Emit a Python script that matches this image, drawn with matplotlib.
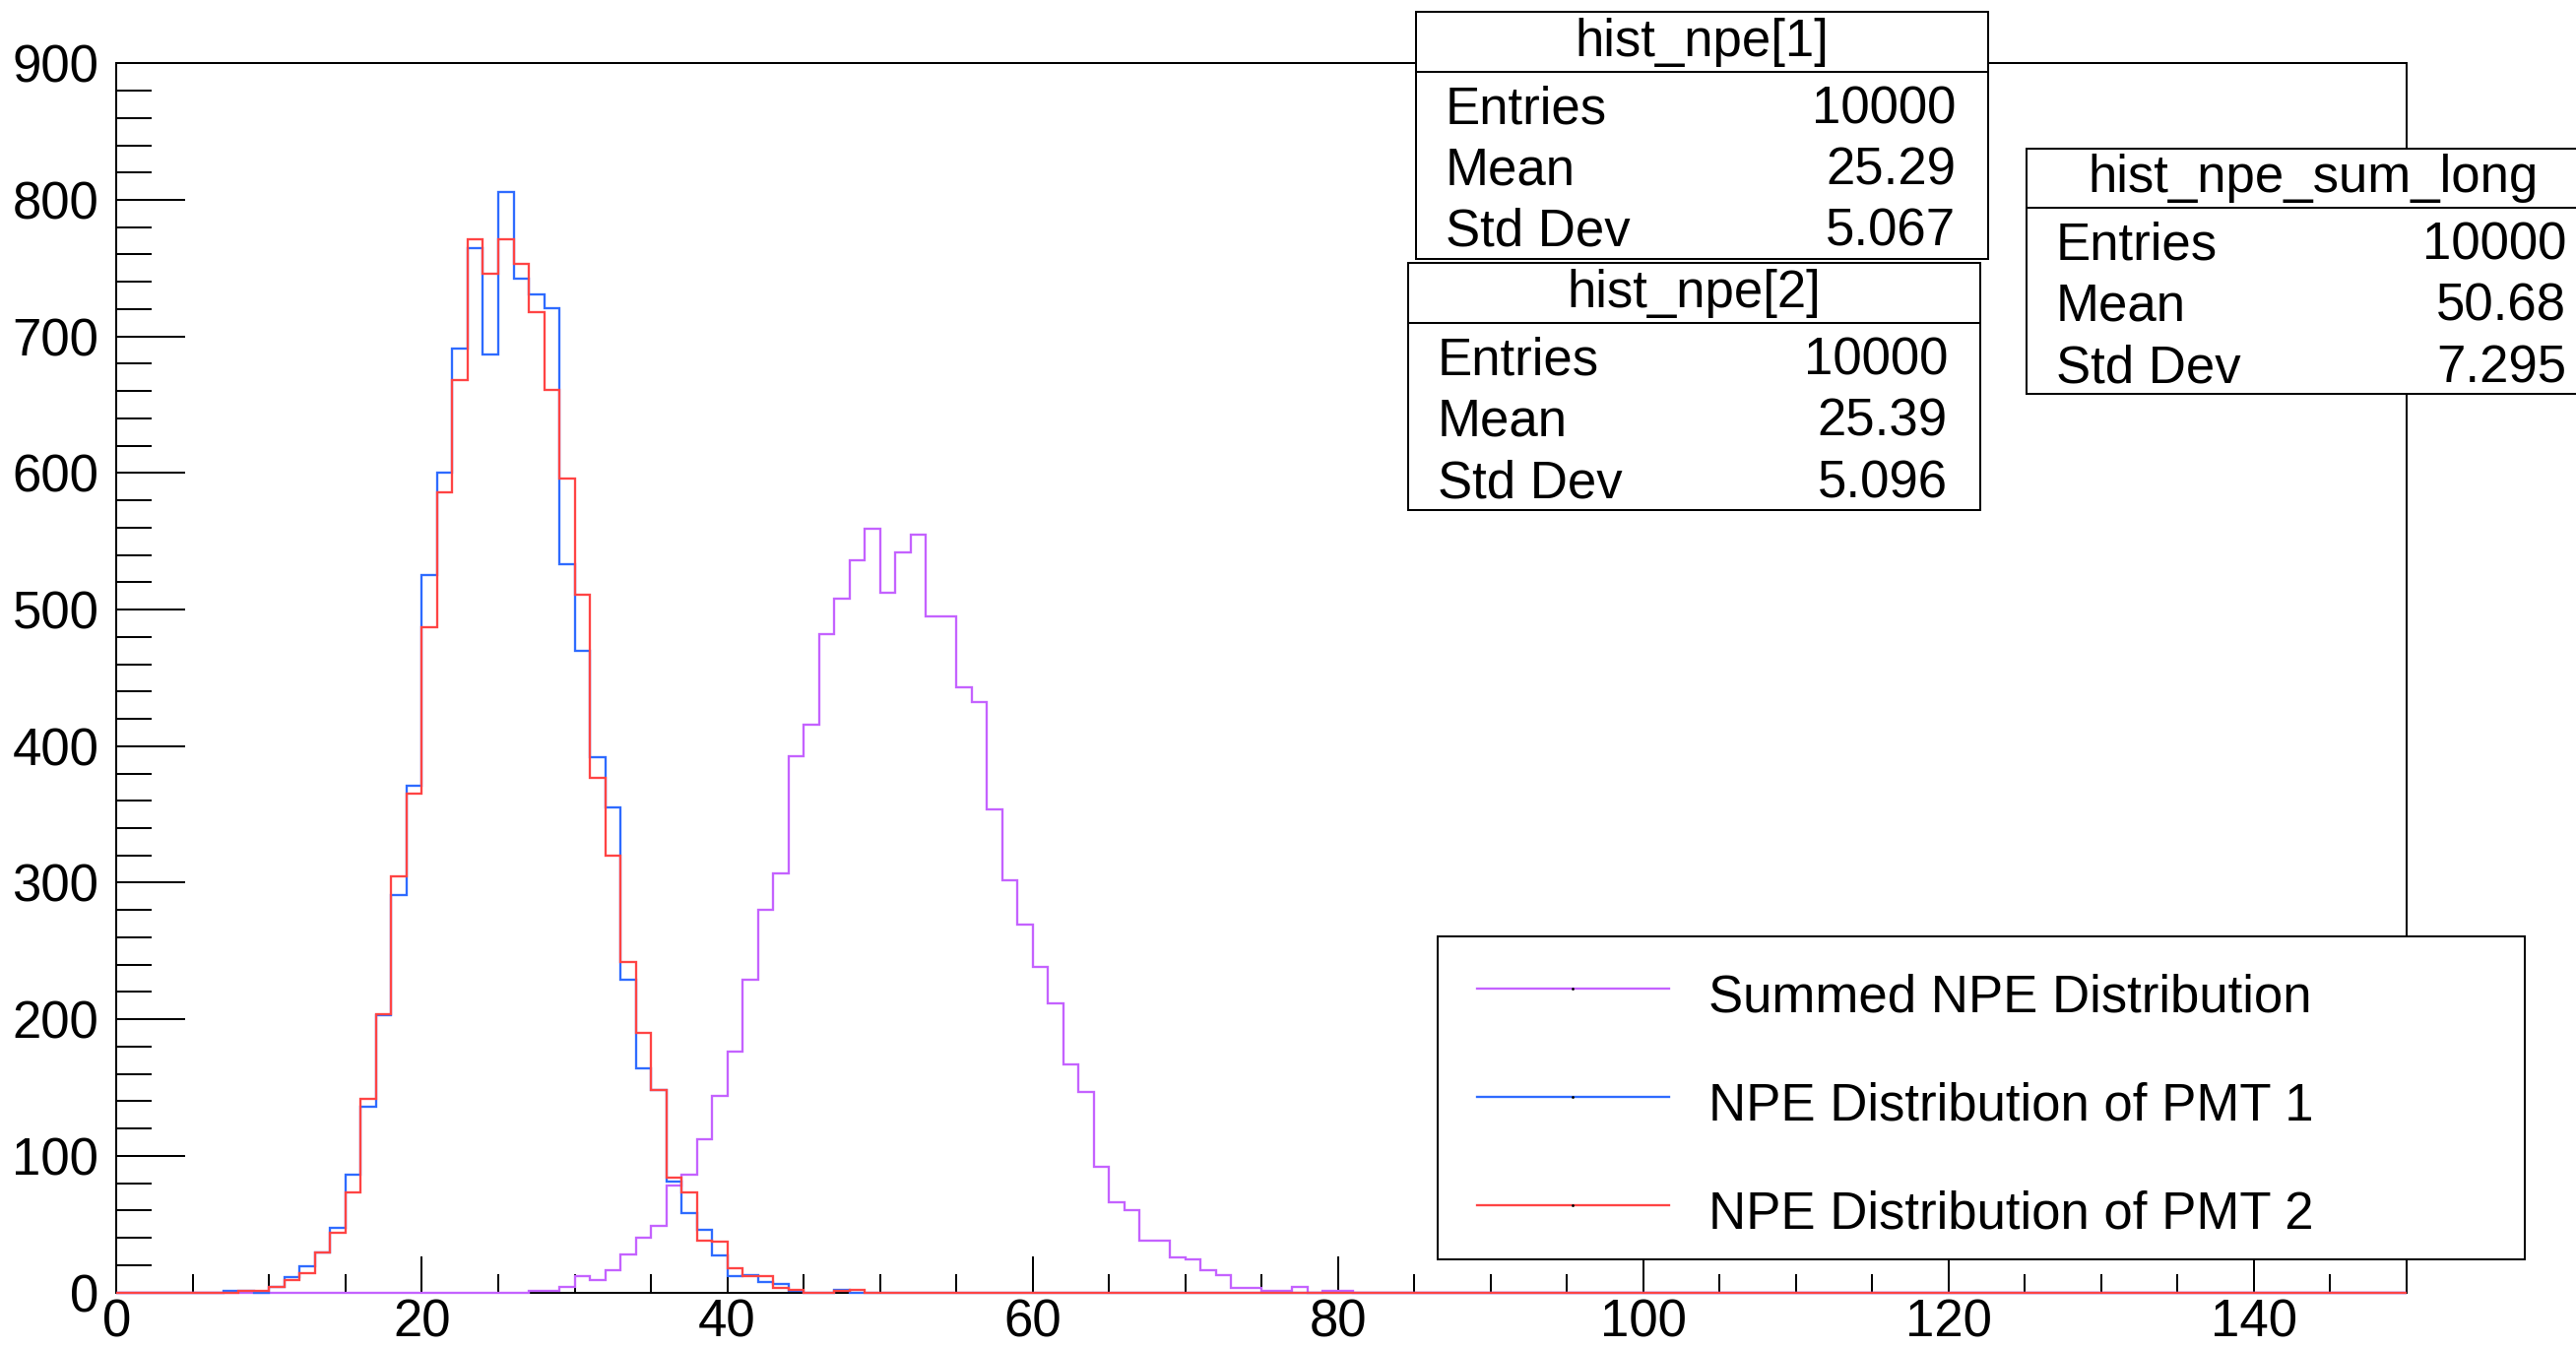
import numpy as np
import matplotlib
matplotlib.use("Agg")
import matplotlib.pyplot as plt
from matplotlib.patches import Rectangle
from matplotlib.lines import Line2D

plt.rcParams['font.family'] = ['Liberation Sans', 'DejaVu Sans']

# ---------------- data ----------------
bin_edges = np.arange(0, 151, 1)

pmt1_start = 7
pmt1_counts = [1, 1, 0, 4, 11, 19, 29, 47, 86, 136, 203, 291, 371, 525, 600, 691,
               765, 687, 806, 742, 731, 721, 533, 470, 392, 355, 229, 164, 148, 81,
               58, 46, 27, 12, 13, 8, 6, 1, 0, 0, 2, 0]

pmt2_start = 8
pmt2_counts = [1, 1, 4, 9, 14, 29, 44, 73, 142, 204, 305, 365, 487, 586, 668, 771,
               746, 771, 753, 718, 661, 596, 511, 377, 320, 242, 190, 148, 84, 73,
               38, 37, 18, 12, 12, 3, 2, 0, 0, 1, 2]

sum_start = 27
sum_counts = [1, 1, 4, 12, 9, 16, 28, 40, 49, 78, 86, 112, 144, 176, 229, 280, 307,
              393, 416, 482, 508, 536, 559, 512, 542, 555, 495, 495, 443, 432, 354,
              302, 269, 238, 212, 167, 147, 92, 66, 60, 38, 38, 26, 24, 16, 13, 3, 3,
              1, 1, 4, 0, 1, 1]

legend_labels = ["Summed NPE Distribution", "NPE Distribution of PMT 1",
                 "NPE Distribution of PMT 2"]
stat_titles = ["hist_npe[1]", "hist_npe[2]", "hist_npe_sum_long"]
stat_keys = ["Entries", "Mean", "Std Dev"]
stat_values_pmt1 = ["10000", "25.29", "5.067"]
stat_values_pmt2 = ["10000", "25.39", "5.096"]
stat_values_sum = ["10000", "50.68", "7.295"]

x_major = np.arange(0, 141, 20)
x_minor = np.arange(0, 151, 5)
y_major = np.arange(0, 901, 100)
y_minor = np.arange(0, 901, 20)

# ---------------- helpers ----------------
def full_hist(start, counts, nbins=150):
    h = np.zeros(nbins)
    h[start:start + len(counts)] = counts
    return h

h_pmt1 = full_hist(pmt1_start, pmt1_counts)
h_pmt2 = full_hist(pmt2_start, pmt2_counts)
h_sum = full_hist(sum_start, sum_counts)

W, H = 2616, 1368
DPI = 100
fig = plt.figure(figsize=(W / DPI, H / DPI), dpi=DPI)
fig.patch.set_facecolor('white')

def fx(px):
    return px / W

def fy(py):
    return 1 - py / H

PX = 72.0 / DPI  # points per pixel
FS = 52.8 * PX   # font size in points

ax_l, ax_r, ax_t, ax_b = 118.4, 2444, 64.3, 1312.6
ax = fig.add_axes([fx(ax_l), fy(ax_b), fx(ax_r) - fx(ax_l), fy(ax_t) - fy(ax_b)])

c_sum = '#c462ff'
c_pmt1 = '#2e6bff'
c_pmt2 = '#ff4444'
LW = 2.3 * PX

ax.stairs(h_sum, bin_edges, color=c_sum, lw=LW, zorder=3, clip_on=False)
ax.stairs(h_pmt1, bin_edges, color=c_pmt1, lw=LW, zorder=4, clip_on=False)
ax.stairs(h_pmt2, bin_edges, color=c_pmt2, lw=LW, zorder=5, clip_on=False)

ax.set_xlim(0, 150)
ax.set_ylim(0, 900)
ax.set_xticks(x_major)
ax.set_xticks(x_minor, minor=True)
ax.set_yticks(y_major)
ax.set_yticks(y_minor, minor=True)
ax.set_xticklabels([str(v) for v in x_major])
ax.set_yticklabels([str(v) for v in y_major])

for s in ax.spines.values():
    s.set_linewidth(2 * PX)
    s.set_color('black')

ax.tick_params(axis='x', which='major', direction='in', length=37 * PX,
               width=2 * PX, pad=4.5, labelsize=FS, top=False)
ax.tick_params(axis='x', which='minor', direction='in', length=19 * PX,
               width=2 * PX, top=False)
ax.tick_params(axis='y', which='major', direction='in', length=70 * PX,
               width=2 * PX, pad=13, labelsize=FS, right=False)
ax.tick_params(axis='y', which='minor', direction='in', length=36 * PX,
               width=2 * PX, right=False)

BLW = 2 * PX

def stat_box(left, right, top, sep, bottom, title, keys, vals):
    fig.patches.append(Rectangle((fx(left), fy(bottom)), fx(right) - fx(left),
                                 fy(top) - fy(bottom), transform=fig.transFigure,
                                 facecolor='white', edgecolor='black', lw=BLW,
                                 zorder=10))
    fig.lines.append(Line2D([fx(left), fx(right)], [fy(sep), fy(sep)],
                            transform=fig.transFigure, color='black', lw=BLW,
                            zorder=11))
    fig.text(fx((left + right) / 2), fy(sep - 16), title, ha='center',
             va='baseline', fontsize=FS, zorder=12)
    for i, (k, v) in enumerate(zip(keys, vals)):
        yb = sep + 52.5 + i * 62.3
        fig.text(fx(left + 30), fy(yb), k, ha='left', va='baseline',
                 fontsize=FS, zorder=12)
        fig.text(fx(right - 33), fy(yb), v, ha='right', va='baseline',
                 fontsize=FS, zorder=12)

stat_box(1438, 2019, 12, 72.5, 263, stat_titles[0], stat_keys, stat_values_pmt1)
stat_box(1430, 2011, 267, 328, 518, stat_titles[1], stat_keys, stat_values_pmt2)
stat_box(2058, 2639, 151, 211, 400, stat_titles[2], stat_keys, stat_values_sum)

# legend
lg_l, lg_r, lg_t, lg_b = 1460, 2564, 951, 1279
fig.patches.append(Rectangle((fx(lg_l), fy(lg_b)), fx(lg_r) - fx(lg_l),
                             fy(lg_t) - fy(lg_b), transform=fig.transFigure,
                             facecolor='white', edgecolor='black', lw=BLW, zorder=10))
rows = [1004, 1114, 1224]
for ry, col, lab in zip(rows, [c_sum, c_pmt1, c_pmt2], legend_labels):
    fig.lines.append(Line2D([fx(1500), fx(1695)], [fy(ry), fy(ry)],
                            transform=fig.transFigure, color=col, lw=LW, zorder=11))
    fig.lines.append(Line2D([fx(1597)], [fy(ry)], transform=fig.transFigure,
                            marker='.', markersize=2, color='black', lw=0, zorder=12))
    fig.text(fx(1735), fy(ry + 23), lab, ha='left', va='baseline', fontsize=FS,
             zorder=12)

fig.savefig('out.png', dpi=DPI, facecolor='white')
